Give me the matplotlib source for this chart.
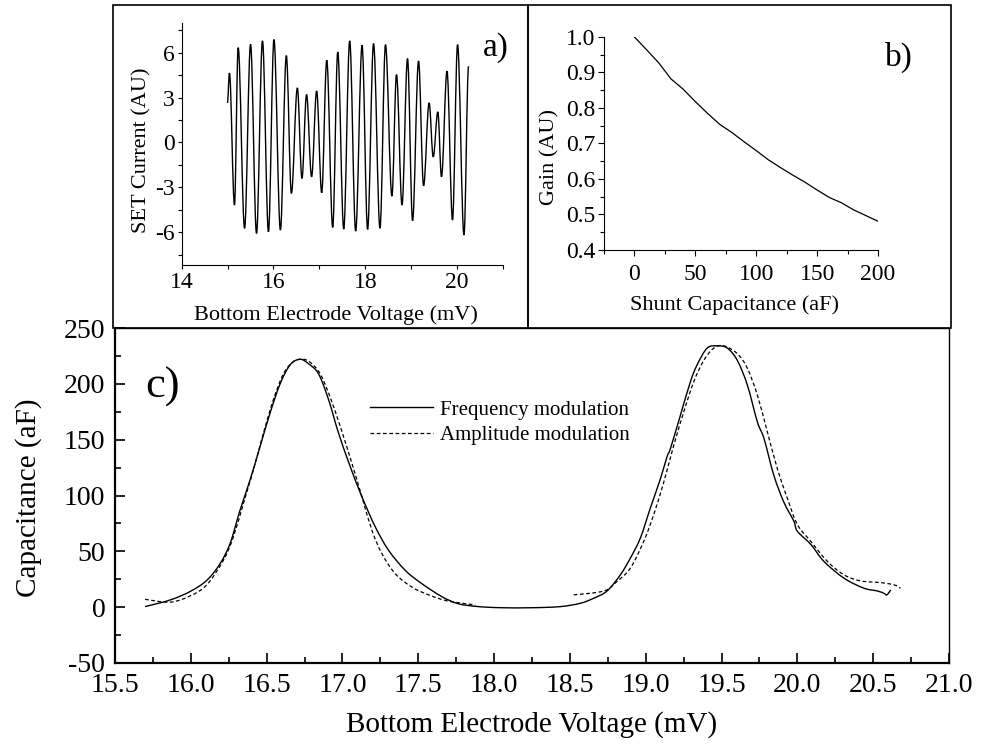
import numpy as np
import matplotlib
matplotlib.use("Agg")
import matplotlib.pyplot as plt
from matplotlib.path import Path
from matplotlib.patches import PathPatch, Rectangle
from matplotlib.lines import Line2D
from matplotlib.ticker import MultipleLocator

plt.rcParams['font.family'] = ['Liberation Serif', 'DejaVu Serif']
plt.rcParams['axes.unicode_minus'] = False

# panel a) - extrema of the SET current oscillation
set_v = [14.996, 15.04, 15.15, 15.23, 15.37, 15.50, 15.63, 15.76, 15.89, 16.01,
         16.15, 16.28, 16.39, 16.52, 16.62, 16.72, 16.83, 16.94, 17.05, 17.16,
         17.29, 17.40, 17.53, 17.66, 17.79, 17.93, 18.05, 18.18, 18.32, 18.44,
         18.58, 18.68, 18.80, 18.92, 19.03, 19.16, 19.27, 19.39, 19.48, 19.58,
         19.66, 19.78, 19.90, 20.01, 20.15, 20.25]
set_i = [2.64, 4.64, -4.18, 6.33, -5.73, 6.56, -6.07, 6.78, -5.96, 6.87,
         -5.84, 5.80, -3.40, 3.64, -2.40, 3.20, -2.29, 3.44, -3.36, 5.49,
         -5.67, 6.04, -5.78, 6.78, -5.91, 6.49, -5.80, 6.60, -5.73, 6.53,
         -3.58, 4.53, -4.18, 5.60, -5.22, 5.44, -2.89, 2.64, -0.96, 2.04,
         -2.29, 4.76, -5.18, 6.53, -6.18, 5.09]

# panel b) - gain vs shunt capacitance
shunt_c = [0, 10, 20, 30, 40, 50, 60, 70, 80, 90, 100,
           110, 120, 130, 140, 150, 160, 170, 180, 190, 200]
gain = [1.0, 0.964, 0.927, 0.882, 0.853, 0.818, 0.785, 0.754, 0.731, 0.705, 0.680,
        0.654, 0.632, 0.611, 0.591, 0.569, 0.548, 0.533, 0.513, 0.497, 0.481]

# panel c) - frequency modulation (solid)
fm_v = [15.698, 15.863, 15.995, 16.105, 16.193, 16.259, 16.325, 16.391, 16.457, 16.523,
        16.589, 16.655, 16.72, 16.776, 16.842, 16.908, 16.974, 17.051, 17.128, 17.216,
        17.304, 17.414, 17.524, 17.656, 17.766, 17.898, 18.05, 18.25, 18.437, 18.569,
        18.657, 18.745, 18.833, 18.899, 18.965, 19.031, 19.097, 19.141, 19.163, 19.229,
        19.295, 19.339, 19.405, 19.472, 19.538, 19.604, 19.67, 19.736, 19.78, 19.845,
        19.911, 19.977, 20.0, 20.09, 20.175, 20.307, 20.439, 20.528, 20.571, 20.59,
        20.616]
fm_c = [0.5, 6.4, 14, 24, 39, 57, 87, 114, 144, 174,
        200, 217, 222, 218, 209, 186, 156, 126, 99, 72,
        51, 33, 21, 9.4, 3, 0.5, -0.5, -0.5, 0.5, 3.5,
        8, 14.5, 29, 44, 62, 89, 115, 135, 142, 172,
        202, 217, 232, 234, 232, 221, 199, 166, 151, 118,
        94, 77, 68, 56, 41, 26, 17, 14.5, 12.4, 11,
        15.4]

# panel c) - amplitude modulation (dashed), two sweeps
am_v1 = [15.698, 15.863, 15.995, 16.105, 16.215, 16.281, 16.347, 16.413, 16.479, 16.545,
         16.611, 16.677, 16.74, 16.79, 16.853, 16.919, 16.985, 17.062, 17.128, 17.194,
         17.26, 17.348, 17.458, 17.568, 17.68, 17.79, 17.876]
am_c1 = [7, 4.5, 10, 20, 42, 63, 93, 123, 156, 186,
         209, 220, 222, 219, 209, 188, 162, 129, 99, 69,
         48, 30, 18, 11, 6, 3.5, 2]
am_v2 = [18.525, 18.724, 18.81, 18.899, 18.987, 19.053, 19.119, 19.185, 19.251, 19.317,
         19.383, 19.449, 19.515, 19.604, 19.67, 19.736, 19.802, 19.868, 19.934, 20.0,
         20.088, 20.198, 20.307, 20.417, 20.55, 20.637, 20.68]
am_c2 = [11, 14.5, 23, 35, 59, 83, 112, 145, 175, 202,
         221, 232, 234, 227, 214, 190, 157, 124, 97.5, 74,
         59, 41, 29, 23.5, 22, 20, 17]


def wave_path(xs, ys, k=0.36):
    # smooth half-wave between successive extrema (horizontal tangents)
    verts = [(xs[0], ys[0])]
    codes = [Path.MOVETO]
    for i in range(len(xs) - 1):
        dx = xs[i + 1] - xs[i]
        verts += [(xs[i] + k * dx, ys[i]), (xs[i + 1] - k * dx, ys[i + 1]), (xs[i + 1], ys[i + 1])]
        codes += [Path.CURVE4] * 3
    return Path(verts, codes)


def smooth_path(xs, ys):
    # Catmull-Rom through the read points
    p = np.column_stack([xs, ys]).astype(float)
    verts = [p[0]]
    codes = [Path.MOVETO]
    n = len(p)
    for i in range(n - 1):
        p0 = p[i - 1] if i > 0 else p[i]
        p3 = p[i + 2] if i + 2 < n else p[i + 1]
        verts += [p[i] + (p[i + 1] - p0) / 6, p[i + 1] - (p3 - p[i]) / 6, p[i + 1]]
        codes += [Path.CURVE4] * 3
    return Path(verts, codes)


W, H = 981, 752
fig = plt.figure(figsize=(W / 100, H / 100), dpi=100)


def rect(l, r, t, b):
    return [l / W, 1 - b / H, (r - l) / W, (b - t) / H]


# ---- a)
ax_a = fig.add_axes(rect(181.7, 503, 23.4, 265.3))
ax_a.add_patch(PathPatch(wave_path(set_v, set_i), fill=False, color='k', lw=1.0))
ax_a.set_xlim(14, 21)
ax_a.set_ylim(-8.2, 7.95)
ax_a.xaxis.set_major_locator(MultipleLocator(2))
ax_a.xaxis.set_minor_locator(MultipleLocator(1))
ax_a.yaxis.set_major_locator(MultipleLocator(3))
ax_a.yaxis.set_minor_locator(MultipleLocator(1.5))
ax_a.spines[['top', 'right']].set_visible(False)
ax_a.tick_params(which='both', direction='out', length=3, width=0.8, labelsize=17, pad=2)
ax_a.set_xlabel("Bottom Electrode Voltage (mV)", fontsize=16)
ax_a.set_ylabel("SET Current (AU)", fontsize=16)
ax_a.xaxis.set_label_coords(0.48, -0.205)
ax_a.xaxis.label.set_va('center')
ax_a.yaxis.set_label_coords(-0.124, 0.477)
ax_a.yaxis.label.set_va('center')
ax_a.text(0.978, 0.898, "a)", transform=ax_a.transAxes, fontsize=24, ha='center', va='center')

# ---- b)
ax_b = fig.add_axes(rect(604, 878, 37, 250))
ax_b.plot(shunt_c, gain, color='k', lw=0.9)
ax_b.set_xlim(-25, 200)
ax_b.set_ylim(0.4, 1.0)
ax_b.xaxis.set_major_locator(MultipleLocator(50))
ax_b.xaxis.set_minor_locator(MultipleLocator(25))
ax_b.yaxis.set_major_locator(MultipleLocator(0.1))
ax_b.yaxis.set_minor_locator(MultipleLocator(0.05))
ax_b.set_xticks([0, 50, 100, 150, 200])
ax_b.yaxis.set_major_formatter(plt.FormatStrFormatter('%.1f'))
ax_b.spines[['top', 'right']].set_visible(False)
ax_b.tick_params(which='major', direction='out', length=4, width=0.8, labelsize=17, pad=2)
ax_b.tick_params(which='minor', direction='out', length=3, width=0.8)
ax_b.tick_params(axis='x', pad=6)
ax_b.set_xlabel("Shunt Capacitance (aF)", fontsize=16)
ax_b.set_ylabel("Gain (AU)", fontsize=16)
ax_b.xaxis.set_label_coords(0.478, -0.258)
ax_b.xaxis.label.set_va('center')
ax_b.yaxis.set_label_coords(-0.197, 0.437)
ax_b.yaxis.label.set_va('center')
ax_b.text(1.077, 0.906, "b)", transform=ax_b.transAxes, fontsize=24, ha='center', va='center')

# ---- c)
ax_c = fig.add_axes(rect(115, 949, 328, 663))
ax_c.add_patch(PathPatch(smooth_path(fm_v, fm_c), fill=False, color='k', lw=1.0))
ax_c.add_patch(PathPatch(smooth_path(am_v1, am_c1), fill=False, color='k', lw=0.9, ls=(0, (3, 2))))
ax_c.add_patch(PathPatch(smooth_path(am_v2, am_c2), fill=False, color='k', lw=0.9, ls=(0, (3, 2))))
ax_c.set_xlim(15.5, 21.0)
ax_c.set_ylim(-50, 250)
ax_c.xaxis.set_major_locator(MultipleLocator(0.5))
ax_c.xaxis.set_minor_locator(MultipleLocator(0.25))
ax_c.yaxis.set_major_locator(MultipleLocator(50))
ax_c.yaxis.set_minor_locator(MultipleLocator(25))
ax_c.xaxis.set_major_formatter(plt.FormatStrFormatter('%.1f'))
ax_c.spines[['left', 'bottom']].set_linewidth(1.6)
ax_c.spines[['top', 'right']].set_linewidth(1.0)
ax_c.tick_params(which='major', direction='in', length=7, width=1.2, labelsize=20, pad=7)
ax_c.tick_params(which='minor', direction='in', length=4, width=1.2)
ax_c.set_xlabel("Bottom Electrode Voltage (mV)", fontsize=21)
ax_c.set_ylabel("Capacitance (aF)", fontsize=21)
ax_c.xaxis.set_label_coords(0.5, -0.185)
ax_c.xaxis.label.set_va('center')
ax_c.yaxis.set_label_coords(-0.104, 0.4925)
ax_c.yaxis.label.set_va('center')
ax_c.text(0.0576, 0.824, "c)", transform=ax_c.transAxes, fontsize=32, ha='center', va='center')
handles = [Line2D([], [], color='k', lw=1.0),
           Line2D([], [], color='k', lw=0.9, ls=(0, (3, 2)))]
ax_c.legend(handles, ["Frequency modulation", "Amplitude modulation"],
            loc='upper left', bbox_to_anchor=(0.306, 0.785), frameon=False,
            fontsize=15, borderpad=0, borderaxespad=0, handlelength=3.0,
            handletextpad=0.35, labelspacing=0.3)

# outer frames of the two insets
for l, r in [(113, 528), (528, 951)]:
    fig.add_artist(Rectangle((l / W, 1 - 328 / H), (r - l) / W, (328 - 5) / H,
                             transform=fig.transFigure, fill=False, lw=1.2, color='k'))

fig.savefig("out.png", dpi=100)
